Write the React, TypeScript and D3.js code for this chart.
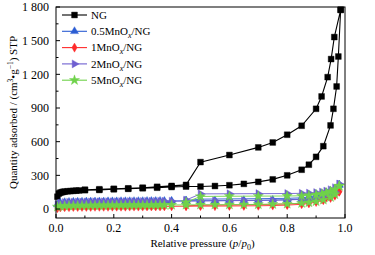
import React from "react";
import * as d3 from "d3";

// ---------- data ----------
const seriesNames = ["NG", "0.5MnOx/NG", "1MnOx/NG", "2MnOx/NG", "5MnOx/NG"];

const ngAdsP = [0.005, 0.01, 0.015, 0.02, 0.025, 0.03, 0.04, 0.05, 0.06, 0.07, 0.08, 0.1, 0.15, 0.2, 0.25, 0.3, 0.35, 0.4, 0.45, 0.5, 0.55, 0.6, 0.65, 0.7, 0.75, 0.8, 0.85, 0.875, 0.9, 0.925, 0.95, 0.96, 0.971, 0.977, 0.985];
const ngAdsV = [110, 138, 146, 150, 153, 155, 158, 160, 162, 164, 165, 168, 170, 176, 180, 185, 190, 196, 200, 200, 205, 212, 224, 242, 264, 300, 350, 395, 465, 560, 745, 893, 1092, 1359, 1775];
const ngDesP = [0.985, 0.963, 0.952, 0.94, 0.919, 0.9, 0.85, 0.8, 0.75, 0.7, 0.6, 0.5, 0.45, 0.4, 0.35, 0.3, 0.25, 0.2, 0.15, 0.1];
const ngDesV = [1775, 1532, 1336, 1175, 1003, 893, 742, 662, 593, 549, 481, 418, 215, 206, 198, 190, 184, 180, 176, 172];

const mnAdsP = [0.005, 0.015, 0.03, 0.045, 0.06, 0.075, 0.09, 0.105, 0.12, 0.135, 0.15, 0.165, 0.18, 0.195, 0.21, 0.225, 0.24, 0.255, 0.27, 0.285, 0.3, 0.315, 0.33, 0.345, 0.36, 0.375, 0.4, 0.45, 0.5, 0.55, 0.6, 0.65, 0.7, 0.75, 0.8, 0.85, 0.875, 0.9, 0.925, 0.95, 0.965, 0.98];
const mnDesP = [0.98, 0.965, 0.95, 0.935, 0.92, 0.9, 0.875, 0.85, 0.8, 0.7, 0.6, 0.5, 0.45];

const mn05AdsV = [40, 55, 60, 62, 63, 64, 64, 65, 65, 66, 66, 66, 67, 67, 67, 68, 68, 68, 69, 69, 69, 70, 70, 70, 71, 71, 72, 73, 74, 75, 76, 77, 78, 80, 83, 88, 93, 100, 112, 132, 155, 215];
const mn05DesV = [215, 180, 160, 145, 132, 120, 108, 100, 95, 92, 90, 88, 75];

const mn1AdsV = [8, 14, 16, 17, 18, 18, 19, 19, 19, 20, 20, 20, 20, 21, 21, 21, 21, 22, 22, 22, 22, 23, 23, 23, 23, 24, 24, 25, 26, 26, 27, 28, 29, 31, 35, 42, 50, 62, 78, 98, 118, 155];
const mn1DesV = [155, 132, 115, 100, 88, 75, 62, 52, 45, 40, 36, 34, 28];

const mn2AdsV = [38, 52, 58, 60, 61, 62, 62, 63, 63, 64, 64, 64, 65, 65, 65, 66, 66, 66, 67, 67, 67, 68, 68, 68, 69, 69, 70, 71, 72, 73, 74, 75, 76, 78, 81, 86, 91, 99, 111, 130, 152, 222];
const mn2DesV = [222, 190, 172, 160, 152, 146, 142, 140, 138, 137, 136, 135, 80];

const mn5AdsV = [20, 26, 28, 29, 30, 30, 31, 31, 31, 32, 32, 32, 33, 33, 33, 33, 34, 34, 34, 34, 35, 35, 35, 35, 36, 36, 36, 37, 38, 38, 39, 40, 41, 43, 46, 52, 58, 68, 82, 105, 130, 205];
const mn5DesV = [205, 175, 158, 145, 135, 128, 122, 118, 116, 115, 114, 112, 60];

const yTicks = [0, 300, 600, 900, 1200, 1500, 1800];
const yTickLabels = ["0", "300", "600", "900", "1 200", "1 500", "1 800"];
const yMinor = [150, 450, 750, 1050, 1350, 1650];
const xTicks = [0, 0.2, 0.4, 0.6, 0.8, 1.0];
const xTickLabels = ["0.0", "0.2", "0.4", "0.6", "0.8", "1.0"];
const xMinor = [0.1, 0.3, 0.5, 0.7, 0.9];

// ---------- style ----------
const FONT = "'Liberation Serif', 'Times New Roman', serif";
const colors = ["#000000", "#2b5dd3", "#ff2b2b", "#6f5fd0", "#6fd24a"];
const symbols = [d3.symbolSquare, d3.symbolTriangle, d3.symbolDiamond, d3.symbolTriangle, d3.symbolStar];
const symSize = [34, 28, 24, 28, 32];
const rotate = [0, 0, 0, 90, 0];

const W = 375, H = 255;
const x = d3.scaleLinear().domain([0, 1]).range([56, 345]);
const y = d3.scaleLinear().domain([-80, 1800]).range([218, 7]);

function zip(p: number[], v: number[]): [number, number][] {
  return p.map((pp, i) => [pp, v[i]]);
}

const seriesData: { ads: [number, number][]; des: [number, number][] }[] = [
  { ads: zip(ngAdsP, ngAdsV), des: zip(ngDesP, ngDesV) },
  { ads: zip(mnAdsP, mn05AdsV), des: zip(mnDesP, mn05DesV) },
  { ads: zip(mnAdsP, mn1AdsV), des: zip(mnDesP, mn1DesV) },
  { ads: zip(mnAdsP, mn2AdsV), des: zip(mnDesP, mn2DesV) },
  { ads: zip(mnAdsP, mn5AdsV), des: zip(mnDesP, mn5DesV) },
];

const line = d3.line<[number, number]>().x((d) => x(d[0])).y((d) => y(d[1]));

function Marker({ i, cx, cy }: { i: number; cx: number; cy: number }) {
  const d = d3.symbol().type(symbols[i]).size(symSize[i])() || "";
  return (
    <path
      d={d}
      transform={`translate(${cx},${cy}) rotate(${rotate[i]})`}
      fill={colors[i]}
      stroke={colors[i]}
      strokeWidth={0.4}
    />
  );
}

function LegendLabel({ name }: { name: string }) {
  if (name.includes("MnOx")) {
    const [pre, post] = name.split("MnOx");
    return (
      <>
        {pre}MnO
        <tspan fontStyle="italic" fontSize={8} dy={3}>x</tspan>
        <tspan dy={-3}>{post}</tspan>
      </>
    );
  }
  return <>{name}</>;
}

export default function App() {
  const order = [0, 1, 2, 3, 4];
  return (
    <div style={{ position: "fixed", left: 0, top: 0 }}>
      <svg width={W} height={H} viewBox={`0 0 ${W} ${H}`} style={{ display: "block", background: "#fff" }}>
        {/* series */}
        {order.map((i) => {
          const s = seriesData[i];
          const all = [...s.ads, ...s.des];
          return (
            <g key={i}>
              <path d={line(all) || ""} fill="none" stroke={colors[i]} strokeWidth={i === 0 ? 1.1 : 0.9} />
              {all.map((d, j) => (
                <Marker key={j} i={i} cx={x(d[0])} cy={y(d[1])} />
              ))}
            </g>
          );
        })}

        {/* frame */}
        <rect x={x(0)} y={y(1800)} width={x(1) - x(0)} height={y(-80) - y(1800)} fill="none" stroke="#000" strokeWidth={1} />

        {/* y ticks */}
        {yTicks.map((t, k) => (
          <g key={t}>
            <line x1={x(0)} x2={x(0) + 4} y1={y(t)} y2={y(t)} stroke="#000" strokeWidth={1} />
            <text x={49} y={y(t)} dy="0.35em" textAnchor="end" fontFamily={FONT} fontSize={12}>
              {yTickLabels[k]}
            </text>
          </g>
        ))}
        {yMinor.map((t) => (
          <line key={t} x1={x(0)} x2={x(0) + 2.5} y1={y(t)} y2={y(t)} stroke="#000" strokeWidth={1} />
        ))}

        {/* x ticks */}
        {xTicks.map((t, k) => (
          <g key={t}>
            <line x1={x(t)} x2={x(t)} y1={y(-80)} y2={y(-80) - 4} stroke="#000" strokeWidth={1} />
            <text x={x(t)} y={232} textAnchor="middle" fontFamily={FONT} fontSize={12}>
              {xTickLabels[k]}
            </text>
          </g>
        ))}
        {xMinor.map((t) => (
          <line key={t} x1={x(t)} x2={x(t)} y1={y(-80)} y2={y(-80) - 2.5} stroke="#000" strokeWidth={1} />
        ))}

        {/* x title */}
        <text x={(x(0) + x(1)) / 2 + 2} y={247} textAnchor="middle" fontFamily={FONT} fontSize={11}>
          Relative pressure (<tspan fontStyle="italic">p</tspan>/<tspan fontStyle="italic">p</tspan>
          <tspan fontSize={8} dy={2.5}>0</tspan>
          <tspan dy={-2.5}>)</tspan>
        </text>

        {/* y title */}
        <text
          transform={`translate(17,${(y(1800) + y(-80)) / 2}) rotate(-90)`}
          textAnchor="middle"
          fontFamily={FONT}
          fontSize={11}
        >
          Quantity adsorbed / (cm<tspan fontSize={7.5} dy={-4}>3</tspan>
          <tspan dy={4}>•g</tspan>
          <tspan fontSize={7.5} dy={-4}>−1</tspan>
          <tspan dy={4}>) STP</tspan>
        </text>

        {/* legend */}
        {seriesNames.map((n, i) => {
          const ly = 15 + i * 16.3;
          return (
            <g key={n}>
              <line x1={62} x2={87} y1={ly} y2={ly} stroke={colors[i]} strokeWidth={1.1} />
              <Marker i={i} cx={74.5} cy={ly} />
              <text x={91} y={ly} dy="0.35em" fontFamily={FONT} fontSize={11}>
                <LegendLabel name={n} />
              </text>
            </g>
          );
        })}
      </svg>
    </div>
  );
}
